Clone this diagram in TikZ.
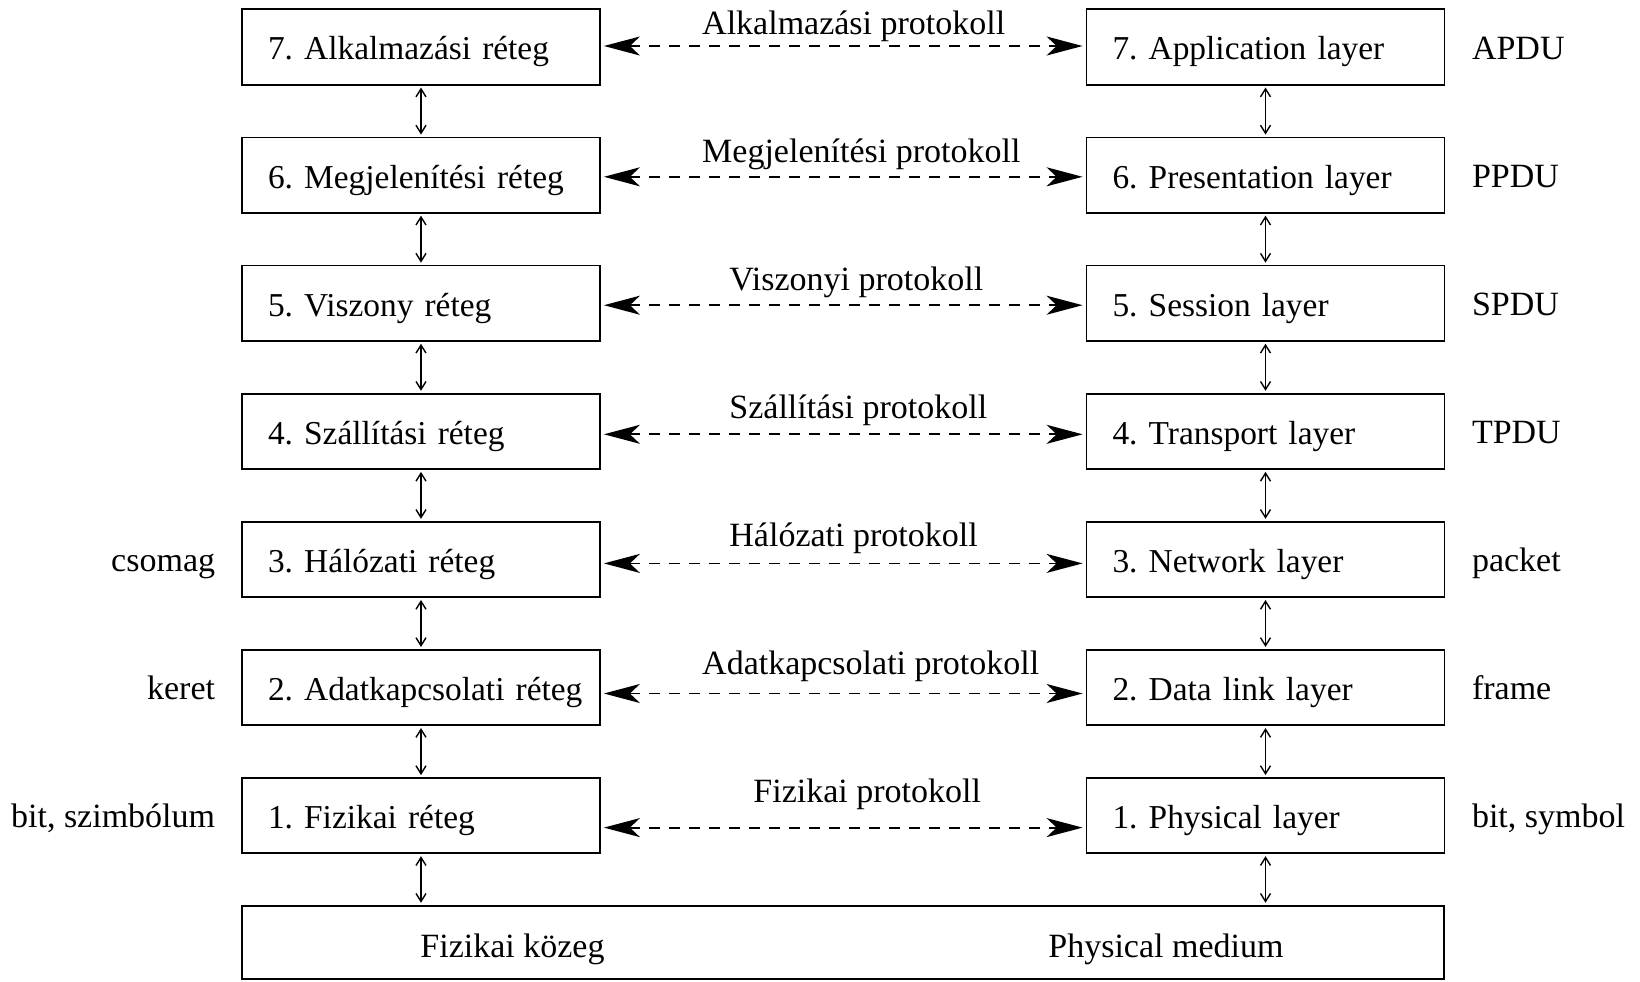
\documentclass[tikz,border=0pt]{standalone}
\usepackage{fontspec}
\setmainfont{Liberation Serif}
\usetikzlibrary{arrows.meta,calc}
\frenchspacing
\begin{document}
\begin{tikzpicture}[x=0.5pt,y=-0.5pt,
  txt/.style={font=\fontsize{17}{20}\selectfont, text height=1.33em, text depth=0.1em, inner sep=0pt},
  layerbox/.style={draw, line width=0.9pt, font=\fontsize{16.7}{20}\selectfont, text height=1.39em, text depth=0.1em, minimum height=37.65pt, text width=153pt, inner xsep=13pt, inner ysep=0pt, align=left},
  mediumbox/.style={draw, line width=0.9pt, minimum height=36.65pt, minimum width=601pt, inner sep=0pt},
  proto/.style={font=\fontsize{17}{20}\selectfont, inner sep=0pt, anchor=base west},
  lside/.style={txt, anchor=east},
  rside/.style={txt, anchor=west},
  peer/.style={{Stealth[length=18pt,width=9.5pt,inset=5pt]}-{Stealth[length=18pt,width=9.5pt,inset=5pt]}, line width=0.9pt, dash pattern=on 5.5pt off 4.5pt},
  vconn/.style={{Straight Barb[length=4pt,width=5pt]}-{Straight Barb[length=4pt,width=5pt]}, line width=0.7pt, shorten <=1pt, shorten >=1pt}
]
\useasboundingbox (0,0) rectangle (1640,981);

% left stack
\node[layerbox] (L7) at (421,47)    {\mbox{7. Alkalmazási réteg}};
\node[layerbox] (L6) at (421,175.1) {\mbox{6. Megjelenítési réteg}};
\node[layerbox] (L5) at (421,303.2) {\mbox{5. Viszony réteg}};
\node[layerbox] (L4) at (421,431.3) {\mbox{4. Szállítási réteg}};
\node[layerbox] (L3) at (421,559.4) {\mbox{3. Hálózati réteg}};
\node[layerbox] (L2) at (421,687.5) {\mbox{2. Adatkapcsolati réteg}};
\node[layerbox] (L1) at (421,815.6) {\mbox{1. Fizikai réteg}};

% right stack
\node[layerbox] (R7) at (1265.5,47)    {\mbox{7. Application layer}};
\node[layerbox] (R6) at (1265.5,175.1) {\mbox{6. Presentation layer}};
\node[layerbox] (R5) at (1265.5,303.2) {\mbox{5. Session layer}};
\node[layerbox] (R4) at (1265.5,431.3) {\mbox{4. Transport layer}};
\node[layerbox] (R3) at (1265.5,559.4) {\mbox{3. Network layer}};
\node[layerbox] (R2) at (1265.5,687.5) {\mbox{2. Data link layer}};
\node[layerbox] (R1) at (1265.5,815.6) {\mbox{1. Physical layer}};

% physical medium
\node[mediumbox] (M) at (843,942.3) {};
\node[proto] (ML) at (420,957) {Fizikai közeg};
\node[proto] (MR) at (1048,957) {Physical medium};

% protocol labels
\node[proto] (P7) at (701.8,34)    {Alkalmazási protokoll};
\node[proto] (P6) at (701.8,162.1) {Megjelenítési protokoll};
\node[proto] (P5) at (729,290.2)   {Viszonyi protokoll};
\node[proto] (P4) at (729,418.3)   {Szállítási protokoll};
\node[proto] (P3) at (729,546.4)   {Hálózati protokoll};
\node[proto] (P2) at (701.8,674.5) {Adatkapcsolati protokoll};
\node[proto] (P1) at (753,802.6)   {Fizikai protokoll};

% side labels
\node[lside] (S3) at (215.5,559.4) {csomag};
\node[lside] (S2) at (215.5,687.5) {keret};
\node[lside] (S1) at (215.5,815.6) {bit, szimbólum};
\node[rside] (T7) at (1471.6,47)    {APDU};
\node[rside] (T6) at (1471.6,175.1) {PPDU};
\node[rside] (T5) at (1471.6,303.2) {SPDU};
\node[rside] (T4) at (1471.6,431.3) {TPDU};
\node[rside] (T3) at (1471.6,559.4) {packet};
\node[rside] (T2) at (1471.6,687.5) {frame};
\node[rside] (T1) at (1471.6,815.6) {bit, symbol};

% peer protocol arrows
\draw[peer] ([shift={(3,-1)}]L7.east) -- ([shift={(-3,-1)}]R7.west);
\draw[peer] ([shift={(3,1.7)}]L6.east) -- ([shift={(-3,1.7)}]R6.west);
\draw[peer] ([shift={(3,2)}]L5.east) -- ([shift={(-3,2)}]R5.west);
\draw[peer] ([shift={(3,3)}]L4.east) -- ([shift={(-3,3)}]R4.west);
\draw[peer] ([shift={(3,4)}]L3.east) -- ([shift={(-3,4)}]R3.west);
\draw[peer] ([shift={(3,6)}]L2.east) -- ([shift={(-3,6)}]R2.west);
\draw[peer] ([shift={(3,12)}]L1.east) -- ([shift={(-3,12)}]R1.west);

% vertical connectors
\draw[vconn] (L7.south) -- (L6.north);
\draw[vconn] (L6.south) -- (L5.north);
\draw[vconn] (L5.south) -- (L4.north);
\draw[vconn] (L4.south) -- (L3.north);
\draw[vconn] (L3.south) -- (L2.north);
\draw[vconn] (L2.south) -- (L1.north);
\draw[vconn] (L1.south) -- (L1.south |- M.north);
\draw[vconn] (R7.south) -- (R6.north);
\draw[vconn] (R6.south) -- (R5.north);
\draw[vconn] (R5.south) -- (R4.north);
\draw[vconn] (R4.south) -- (R3.north);
\draw[vconn] (R3.south) -- (R2.north);
\draw[vconn] (R2.south) -- (R1.north);
\draw[vconn] (R1.south) -- (R1.south |- M.north);
\end{tikzpicture}
\end{document}
